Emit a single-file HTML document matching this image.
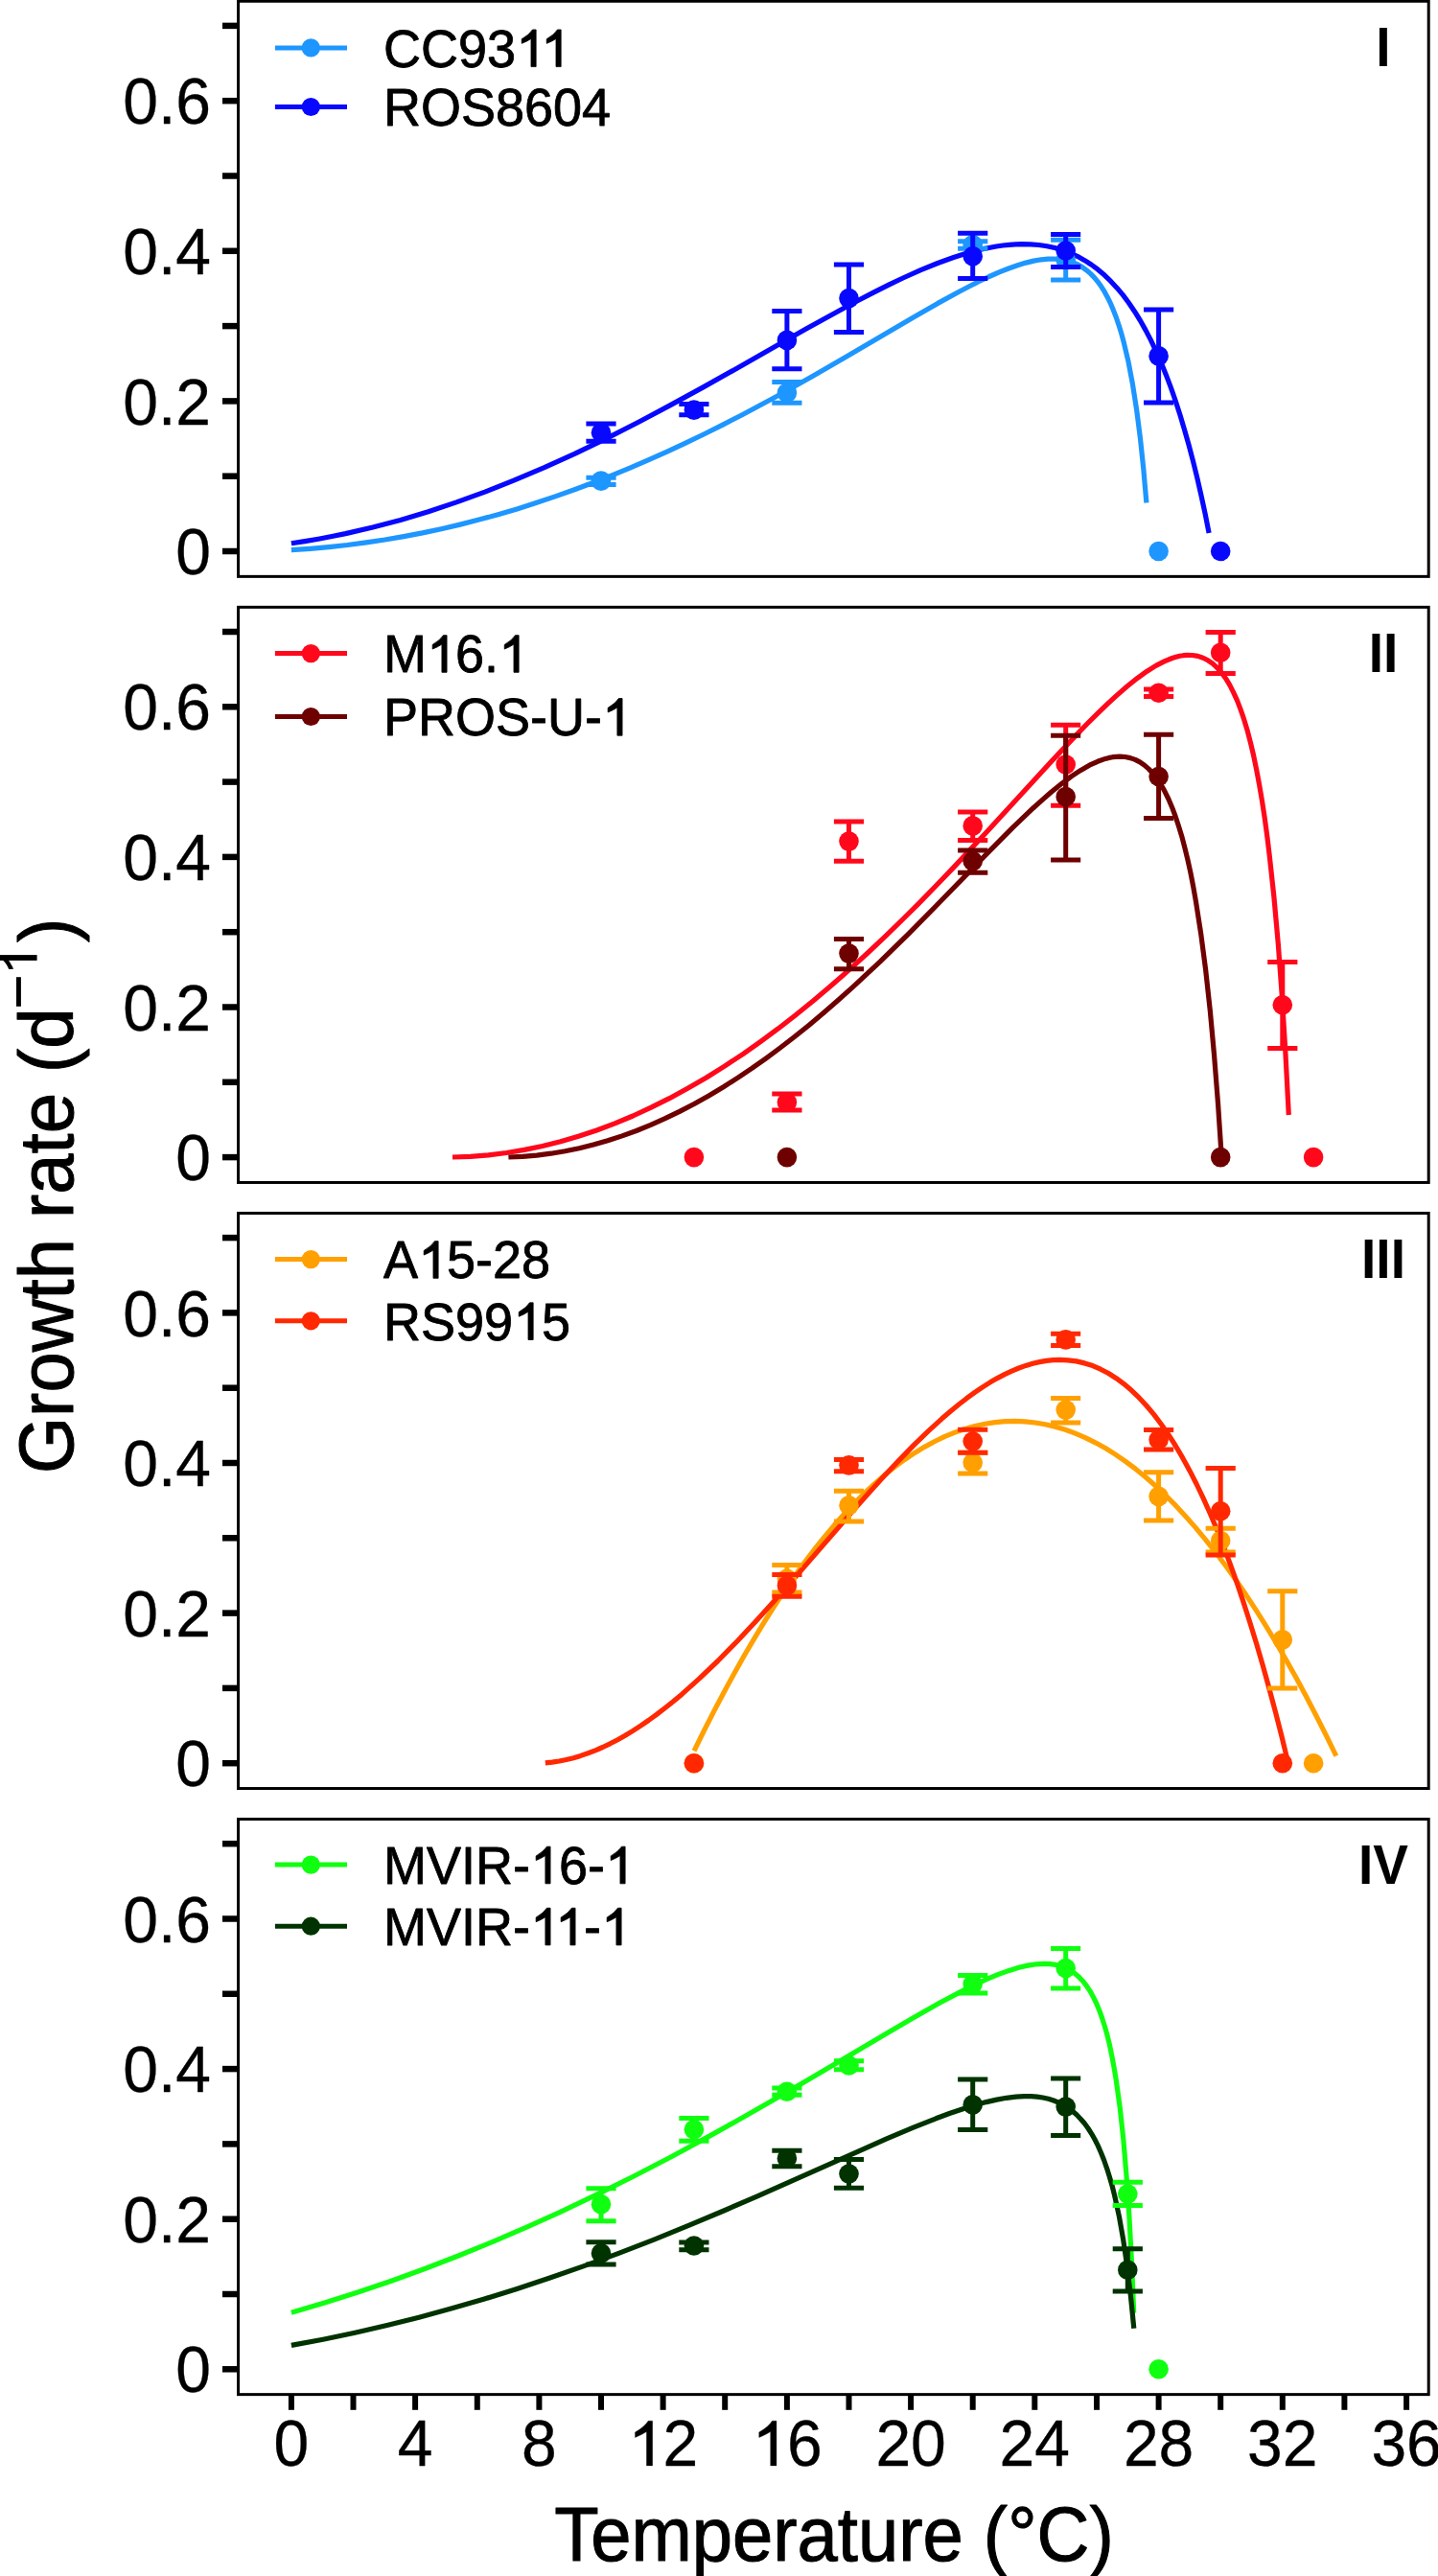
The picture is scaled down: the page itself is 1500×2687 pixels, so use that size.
<!DOCTYPE html><html><head><meta charset="utf-8"><style>html,body{margin:0;padding:0;background:#fff;}svg{display:block;}text{font-family:"Liberation Sans",sans-serif;}</style></head><body>
<svg width="1500" height="2687" viewBox="0 0 1500 2687">
<rect width="1500" height="2687" fill="#fff"/>
<path d="M303.9 573.6 L323.4 572.3 L342.9 570.6 L362.3 568.5 L382.0 565.9 L401.4 563.0 L421.1 559.6 L440.7 555.9 L460.3 551.7 L480.0 547.1 L499.7 542.1 L519.5 536.7 L539.3 530.9 L559.2 524.6 L579.1 517.9 L599.2 510.8 L619.3 503.3 L638.2 495.8 L657.1 488.1 L676.1 479.9 L695.3 471.3 L714.6 462.3 L734.1 453.0 L753.9 443.1 L774.1 432.7 L809.6 413.7 L847.5 392.5 L882.9 372.1 L952.4 331.3 L978.2 316.4 L1000.9 304.0 L1020.3 294.0 L1031.8 288.5 L1042.3 283.9 L1052.2 280.0 L1061.4 276.7 L1070.1 274.1 L1078.3 272.1 L1086.1 270.8 L1093.3 270.1 L1099.1 270.0 L1104.8 270.3 L1110.1 271.1 L1115.2 272.3 L1120.1 274.0 L1124.7 276.2 L1129.2 278.8 L1133.3 281.8 L1137.5 285.4 L1141.4 289.3 L1145.1 293.8 L1148.7 298.8 L1152.1 304.2 L1155.3 310.2 L1158.5 316.7 L1161.4 323.6 L1164.3 331.0 L1167.1 339.3 L1169.8 348.1 L1172.3 357.3 L1177.1 377.7 L1181.5 401.1 L1185.7 427.9 L1189.4 456.9 L1192.8 489.1 L1195.9 524.5" fill="none" stroke="#1E96FF" stroke-width="5.2" stroke-linejoin="round"/>
<path d="M303.9 566.8 L317.9 564.6 L332.0 562.2 L346.2 559.5 L360.4 556.6 L388.9 550.0 L417.7 542.4 L446.7 533.7 L476.1 523.9 L505.8 513.1 L535.9 501.2 L567.3 487.9 L599.4 473.3 L632.6 457.3 L667.1 439.8 L698.8 422.9 L733.1 404.1 L766.0 385.7 L840.0 343.6 L875.5 323.9 L894.0 314.0 L911.1 305.1 L927.0 297.1 L941.9 290.0 L960.5 281.7 L978.1 274.5 L994.7 268.5 L1010.3 263.6 L1025.1 259.7 L1039.3 257.0 L1046.2 256.0 L1052.9 255.3 L1059.5 254.8 L1065.8 254.6 L1074.8 254.8 L1083.5 255.5 L1092.0 256.7 L1100.3 258.5 L1108.3 260.9 L1116.1 263.8 L1123.8 267.3 L1131.1 271.4 L1138.3 276.0 L1145.3 281.2 L1152.2 287.1 L1158.7 293.4 L1165.2 300.4 L1171.5 307.9 L1177.5 316.0 L1183.4 324.7 L1189.2 334.0 L1194.9 344.1 L1200.5 354.9 L1205.9 366.3 L1211.2 378.3 L1216.3 390.9 L1221.3 404.1 L1226.2 418.2 L1231.0 433.0 L1235.6 448.4 L1240.1 464.3 L1244.6 481.3 L1248.9 498.9 L1253.0 516.9 L1257.2 536.2 L1261.1 556.0" fill="none" stroke="#0808FF" stroke-width="5.2" stroke-linejoin="round"/>
<path d="M627.0 498.2V505.6M611.4 498.2H642.6M611.4 505.6H642.6" stroke="#1E96FF" stroke-width="5" fill="none"/>
<circle cx="627.0" cy="501.6" r="10.3" fill="#1E96FF"/>
<path d="M820.9 398.5V420.2M805.3 398.5H836.5M805.3 420.2H836.5" stroke="#1E96FF" stroke-width="5" fill="none"/>
<circle cx="820.9" cy="409.7" r="10.3" fill="#1E96FF"/>
<path d="M1014.7 251.7V259.2M999.1 251.7H1030.3M999.1 259.2H1030.3" stroke="#1E96FF" stroke-width="5" fill="none"/>
<circle cx="1014.7" cy="255.3" r="10.3" fill="#1E96FF"/>
<path d="M1111.7 250.3V291.9M1096.1 250.3H1127.2M1096.1 291.9H1127.2" stroke="#1E96FF" stroke-width="5" fill="none"/>
<circle cx="1111.7" cy="271.1" r="10.3" fill="#1E96FF"/>
<circle cx="1208.6" cy="575.0" r="10.3" fill="#1E96FF"/>
<path d="M627.0 442.0V460.3M611.4 442.0H642.6M611.4 460.3H642.6" stroke="#0808FF" stroke-width="5" fill="none"/>
<circle cx="627.0" cy="451.3" r="10.3" fill="#0808FF"/>
<path d="M723.9 421.5V432.8M708.3 421.5H739.5M708.3 432.8H739.5" stroke="#0808FF" stroke-width="5" fill="none"/>
<circle cx="723.9" cy="427.6" r="10.3" fill="#0808FF"/>
<path d="M820.9 324.6V384.8M805.3 324.6H836.5M805.3 384.8H836.5" stroke="#0808FF" stroke-width="5" fill="none"/>
<circle cx="820.9" cy="354.9" r="10.3" fill="#0808FF"/>
<path d="M885.5 276.1V346.4M869.9 276.1H901.1M869.9 346.4H901.1" stroke="#0808FF" stroke-width="5" fill="none"/>
<circle cx="885.5" cy="311.1" r="10.3" fill="#0808FF"/>
<path d="M1014.7 243.2V290.5M999.1 243.2H1030.3M999.1 290.5H1030.3" stroke="#0808FF" stroke-width="5" fill="none"/>
<circle cx="1014.7" cy="267.3" r="10.3" fill="#0808FF"/>
<path d="M1111.7 244.6V278.6M1096.1 244.6H1127.2M1096.1 278.6H1127.2" stroke="#0808FF" stroke-width="5" fill="none"/>
<circle cx="1111.7" cy="261.5" r="10.3" fill="#0808FF"/>
<path d="M1208.6 322.9V420.0M1193.0 322.9H1224.2M1193.0 420.0H1224.2" stroke="#0808FF" stroke-width="5" fill="none"/>
<circle cx="1208.6" cy="371.4" r="10.3" fill="#0808FF"/>
<circle cx="1273.2" cy="575.0" r="10.3" fill="#0808FF"/>
<rect x="248.5" y="1.25" width="1241.7" height="600.1" fill="none" stroke="#000" stroke-width="3"/>
<line x1="232" y1="575.0" x2="248.5" y2="575.0" stroke="#000" stroke-width="6.5"/>
<text transform="translate(220 599.1) scale(1 1.03)" font-size="66" text-anchor="end" stroke="#000" stroke-width="0.3" stroke-linejoin="round">0</text>
<line x1="232" y1="496.7" x2="248.5" y2="496.7" stroke="#000" stroke-width="6.5"/>
<line x1="232" y1="418.4" x2="248.5" y2="418.4" stroke="#000" stroke-width="6.5"/>
<text transform="translate(220 442.5) scale(1 1.03)" font-size="66" text-anchor="end" stroke="#000" stroke-width="0.3" stroke-linejoin="round">0.2</text>
<line x1="232" y1="340.1" x2="248.5" y2="340.1" stroke="#000" stroke-width="6.5"/>
<line x1="232" y1="261.8" x2="248.5" y2="261.8" stroke="#000" stroke-width="6.5"/>
<text transform="translate(220 285.9) scale(1 1.03)" font-size="66" text-anchor="end" stroke="#000" stroke-width="0.3" stroke-linejoin="round">0.4</text>
<line x1="232" y1="183.5" x2="248.5" y2="183.5" stroke="#000" stroke-width="6.5"/>
<line x1="232" y1="105.2" x2="248.5" y2="105.2" stroke="#000" stroke-width="6.5"/>
<text transform="translate(220 129.3) scale(1 1.03)" font-size="66" text-anchor="end" stroke="#000" stroke-width="0.3" stroke-linejoin="round">0.6</text>
<line x1="232" y1="26.9" x2="248.5" y2="26.9" stroke="#000" stroke-width="6.5"/>
<line x1="286.9" y1="49.9" x2="362" y2="49.9" stroke="#1E96FF" stroke-width="5"/>
<circle cx="324.3" cy="49.9" r="9.6" fill="#1E96FF"/>
<g transform="translate(400 69.6) scale(1 1.04)" stroke="#000" stroke-width="0.8" stroke-linejoin="round"><text font-size="54">CC93<tspan visibility="hidden">11</tspan></text><path transform="translate(138.04 0) scale(0.02637 -0.02637)" d="M605 0 L800 0 L800 1409 L660 1409 Q550 1230 235 1053 L235 884 Q440 960 605 1065 Z" vector-effect="non-scaling-stroke"/><path transform="translate(164.05 0) scale(0.02637 -0.02637)" d="M605 0 L800 0 L800 1409 L660 1409 Q550 1230 235 1053 L235 884 Q440 960 605 1065 Z" vector-effect="non-scaling-stroke"/></g>
<line x1="286.9" y1="111.5" x2="362" y2="111.5" stroke="#0808FF" stroke-width="5"/>
<circle cx="324.3" cy="111.5" r="9.6" fill="#0808FF"/>
<text transform="translate(400 131.2) scale(1 1.04)" font-size="54" stroke="#000" stroke-width="0.8" stroke-linejoin="round">ROS8604</text>
<text transform="translate(1443 68.8) scale(1 1.03)" font-size="55" font-weight="bold" text-anchor="middle">I</text>
<path d="M472.0 1207.0 L490.8 1206.4 L509.5 1204.9 L528.3 1202.5 L547.0 1199.4 L565.8 1195.5 L584.7 1190.8 L603.4 1185.3 L622.4 1179.0 L641.3 1171.9 L660.2 1164.0 L679.2 1155.2 L698.3 1145.7 L717.3 1135.3 L736.5 1124.2 L755.8 1112.1 L775.2 1099.3 L793.2 1086.6 L811.4 1073.2 L829.7 1059.0 L848.2 1044.0 L866.8 1028.3 L885.5 1011.9 L904.6 994.5 L924.1 976.1 L941.1 959.5 L958.4 942.3 L976.3 924.0 L994.9 904.6 L1029.1 868.0 L1096.7 794.3 L1122.3 767.1 L1134.0 755.0 L1145.0 744.1 L1155.1 734.4 L1164.6 725.6 L1175.9 715.8 L1186.5 707.3 L1196.4 700.2 L1205.7 694.4 L1214.5 689.9 L1222.7 686.5 L1226.7 685.3 L1230.6 684.3 L1234.4 683.7 L1238.0 683.4 L1243.8 683.5 L1249.5 684.4 L1254.9 686.2 L1260.0 688.8 L1264.9 692.2 L1269.7 696.6 L1274.2 701.7 L1278.6 707.7 L1282.8 714.6 L1286.7 722.3 L1290.7 731.1 L1294.3 740.6 L1297.8 750.9 L1301.3 762.6 L1304.5 774.8 L1307.7 788.4 L1310.7 803.0 L1313.6 818.6 L1316.4 834.9 L1319.2 853.1 L1321.8 872.3 L1324.2 892.2 L1328.9 935.6 L1333.3 984.6 L1337.2 1037.6 L1340.8 1096.1 L1344.3 1163.0" fill="none" stroke="#FF081C" stroke-width="5.2" stroke-linejoin="round"/>
<path d="M530.4 1207.0 L545.2 1206.4 L559.9 1205.1 L574.7 1203.2 L589.4 1200.8 L604.2 1197.8 L619.0 1194.1 L633.9 1189.8 L648.9 1184.9 L663.8 1179.5 L678.8 1173.4 L693.8 1166.7 L708.9 1159.4 L724.1 1151.5 L739.3 1142.9 L754.7 1133.7 L770.1 1123.9 L784.6 1114.2 L799.2 1103.8 L813.8 1093.0 L828.7 1081.5 L843.7 1069.4 L858.8 1056.7 L874.3 1043.3 L890.1 1029.1 L918.0 1003.1 L947.9 973.8 L975.9 945.5 L1033.2 886.6 L1056.5 863.2 L1077.9 842.7 L1087.5 834.1 L1096.5 826.2 L1107.6 817.3 L1117.8 809.7 L1127.4 803.4 L1136.4 798.2 L1145.0 794.3 L1153.1 791.4 L1156.9 790.4 L1160.7 789.7 L1164.5 789.3 L1168.1 789.1 L1173.6 789.5 L1179.0 790.6 L1184.1 792.4 L1189.0 794.9 L1193.7 798.1 L1198.3 802.1 L1202.8 806.9 L1207.0 812.3 L1211.1 818.6 L1215.0 825.6 L1218.9 833.5 L1222.5 841.9 L1226.1 851.5 L1229.4 861.5 L1232.7 872.2 L1235.9 884.3 L1239.0 897.1 L1242.0 910.8 L1244.8 925.3 L1247.5 940.6 L1252.7 974.0 L1257.7 1012.2 L1262.3 1054.3 L1266.5 1100.1 L1270.5 1150.7 L1274.2 1206.5" fill="none" stroke="#6E0000" stroke-width="5.2" stroke-linejoin="round"/>
<circle cx="723.9" cy="1207.1" r="10.3" fill="#FF081C"/>
<path d="M820.9 1141.0V1158.0M805.3 1141.0H836.5M805.3 1158.0H836.5" stroke="#FF081C" stroke-width="5" fill="none"/>
<circle cx="820.9" cy="1149.7" r="10.3" fill="#FF081C"/>
<path d="M885.5 856.9V898.2M869.9 856.9H901.1M869.9 898.2H901.1" stroke="#FF081C" stroke-width="5" fill="none"/>
<circle cx="885.5" cy="877.6" r="10.3" fill="#FF081C"/>
<path d="M1014.7 847.1V876.4M999.1 847.1H1030.3M999.1 876.4H1030.3" stroke="#FF081C" stroke-width="5" fill="none"/>
<circle cx="1014.7" cy="861.4" r="10.3" fill="#FF081C"/>
<path d="M1111.7 756.2V840.3M1096.1 756.2H1127.2M1096.1 840.3H1127.2" stroke="#FF081C" stroke-width="5" fill="none"/>
<circle cx="1111.7" cy="797.5" r="10.3" fill="#FF081C"/>
<path d="M1208.6 718.9V726.6M1193.0 718.9H1224.2M1193.0 726.6H1224.2" stroke="#FF081C" stroke-width="5" fill="none"/>
<circle cx="1208.6" cy="722.8" r="10.3" fill="#FF081C"/>
<path d="M1273.2 659.4V702.6M1257.6 659.4H1288.8M1257.6 702.6H1288.8" stroke="#FF081C" stroke-width="5" fill="none"/>
<circle cx="1273.2" cy="680.7" r="10.3" fill="#FF081C"/>
<path d="M1337.8 1003.6V1093.4M1322.2 1003.6H1353.4M1322.2 1093.4H1353.4" stroke="#FF081C" stroke-width="5" fill="none"/>
<circle cx="1337.8" cy="1048.3" r="10.3" fill="#FF081C"/>
<circle cx="1370.1" cy="1207.1" r="10.3" fill="#FF081C"/>
<circle cx="820.9" cy="1207.1" r="10.3" fill="#6E0000"/>
<path d="M885.5 979.6V1010.8M869.9 979.6H901.1M869.9 1010.8H901.1" stroke="#6E0000" stroke-width="5" fill="none"/>
<circle cx="885.5" cy="994.6" r="10.3" fill="#6E0000"/>
<path d="M1014.7 886.9V910.2M999.1 886.9H1030.3M999.1 910.2H1030.3" stroke="#6E0000" stroke-width="5" fill="none"/>
<circle cx="1014.7" cy="898.2" r="10.3" fill="#6E0000"/>
<path d="M1111.7 767.3V897.0M1096.1 767.3H1127.2M1096.1 897.0H1127.2" stroke="#6E0000" stroke-width="5" fill="none"/>
<circle cx="1111.7" cy="831.0" r="10.3" fill="#6E0000"/>
<path d="M1208.6 766.2V853.4M1193.0 766.2H1224.2M1193.0 853.4H1224.2" stroke="#6E0000" stroke-width="5" fill="none"/>
<circle cx="1208.6" cy="810.0" r="10.3" fill="#6E0000"/>
<circle cx="1273.2" cy="1207.1" r="10.3" fill="#6E0000"/>
<rect x="248.5" y="633.35" width="1241.7" height="600.1" fill="none" stroke="#000" stroke-width="3"/>
<line x1="232" y1="1207.1" x2="248.5" y2="1207.1" stroke="#000" stroke-width="6.5"/>
<text transform="translate(220 1231.2) scale(1 1.03)" font-size="66" text-anchor="end" stroke="#000" stroke-width="0.3" stroke-linejoin="round">0</text>
<line x1="232" y1="1128.8" x2="248.5" y2="1128.8" stroke="#000" stroke-width="6.5"/>
<line x1="232" y1="1050.5" x2="248.5" y2="1050.5" stroke="#000" stroke-width="6.5"/>
<text transform="translate(220 1074.6) scale(1 1.03)" font-size="66" text-anchor="end" stroke="#000" stroke-width="0.3" stroke-linejoin="round">0.2</text>
<line x1="232" y1="972.2" x2="248.5" y2="972.2" stroke="#000" stroke-width="6.5"/>
<line x1="232" y1="893.9" x2="248.5" y2="893.9" stroke="#000" stroke-width="6.5"/>
<text transform="translate(220 918.0) scale(1 1.03)" font-size="66" text-anchor="end" stroke="#000" stroke-width="0.3" stroke-linejoin="round">0.4</text>
<line x1="232" y1="815.6" x2="248.5" y2="815.6" stroke="#000" stroke-width="6.5"/>
<line x1="232" y1="737.3" x2="248.5" y2="737.3" stroke="#000" stroke-width="6.5"/>
<text transform="translate(220 761.4) scale(1 1.03)" font-size="66" text-anchor="end" stroke="#000" stroke-width="0.3" stroke-linejoin="round">0.6</text>
<line x1="232" y1="659.0" x2="248.5" y2="659.0" stroke="#000" stroke-width="6.5"/>
<line x1="286.9" y1="681.6" x2="362" y2="681.6" stroke="#FF081C" stroke-width="5"/>
<circle cx="324.3" cy="681.6" r="9.6" fill="#FF081C"/>
<g transform="translate(400 701.3) scale(1 1.04)" stroke="#000" stroke-width="0.8" stroke-linejoin="round"><text font-size="54">M<tspan visibility="hidden">1</tspan>6.<tspan visibility="hidden">1</tspan></text><path transform="translate(44.98 0) scale(0.02637 -0.02637)" d="M605 0 L800 0 L800 1409 L660 1409 Q550 1230 235 1053 L235 884 Q440 960 605 1065 Z" vector-effect="non-scaling-stroke"/><path transform="translate(120.04 0) scale(0.02637 -0.02637)" d="M605 0 L800 0 L800 1409 L660 1409 Q550 1230 235 1053 L235 884 Q440 960 605 1065 Z" vector-effect="non-scaling-stroke"/></g>
<line x1="286.9" y1="747.5" x2="362" y2="747.5" stroke="#6E0000" stroke-width="5"/>
<circle cx="324.3" cy="747.5" r="9.6" fill="#6E0000"/>
<g transform="translate(400 767.2) scale(1 1.04)" stroke="#000" stroke-width="0.8" stroke-linejoin="round"><text font-size="54">PROS-U-<tspan visibility="hidden">1</tspan></text><path transform="translate(227.96 0) scale(0.02637 -0.02637)" d="M605 0 L800 0 L800 1409 L660 1409 Q550 1230 235 1053 L235 884 Q440 960 605 1065 Z" vector-effect="non-scaling-stroke"/></g>
<text transform="translate(1443 700.9) scale(1 1.03)" font-size="55" font-weight="bold" text-anchor="middle">II</text>
<path d="M724.0 1826.3 L734.5 1805.0 L744.9 1784.6 L755.4 1764.7 L765.9 1745.4 L776.4 1726.8 L786.8 1709.1 L797.2 1691.9 L807.6 1675.5 L818.1 1659.6 L828.5 1644.6 L839.0 1630.1 L849.5 1616.2 L860.0 1603.1 L870.5 1590.6 L881.0 1578.8 L891.4 1567.8 L901.9 1557.4 L912.3 1547.7 L922.8 1538.6 L933.2 1530.2 L943.7 1522.5 L954.2 1515.4 L964.7 1509.1 L975.1 1503.5 L985.6 1498.4 L996.1 1494.1 L1006.6 1490.5 L1017.0 1487.5 L1027.5 1485.2 L1037.9 1483.6 L1048.4 1482.7 L1058.9 1482.4 L1069.4 1482.9 L1079.9 1484.0 L1090.4 1485.7 L1100.7 1488.2 L1111.2 1491.3 L1121.6 1495.1 L1132.1 1499.6 L1142.6 1504.8 L1153.0 1510.5 L1163.5 1517.1 L1174.0 1524.3 L1184.5 1532.2 L1195.0 1540.7 L1205.5 1550.0 L1215.9 1559.8 L1226.4 1570.4 L1236.8 1581.7 L1247.3 1593.6 L1257.8 1606.3 L1268.2 1619.5 L1278.6 1633.3 L1289.1 1648.0 L1299.6 1663.3 L1310.1 1679.4 L1320.6 1696.1 L1331.1 1713.5 L1341.5 1731.4 L1352.0 1750.1 L1362.5 1769.6 L1373.0 1789.7 L1383.3 1810.2 L1393.8 1831.7" fill="none" stroke="#FFA000" stroke-width="5.2" stroke-linejoin="round"/>
<path d="M568.8 1838.8 L576.0 1838.1 L583.4 1837.0 L590.7 1835.5 L598.2 1833.7 L605.7 1831.4 L613.3 1828.8 L621.0 1825.9 L628.7 1822.5 L636.4 1818.8 L644.3 1814.7 L652.2 1810.3 L660.2 1805.4 L668.3 1800.1 L676.5 1794.5 L684.9 1788.4 L693.2 1782.0 L702.0 1775.0 L711.1 1767.4 L729.5 1750.9 L748.8 1732.5 L769.2 1711.7 L788.8 1690.8 L810.5 1666.8 L832.2 1642.1 L888.7 1577.1 L905.4 1558.3 L920.3 1541.8 L937.4 1523.6 L953.2 1507.4 L968.2 1492.8 L982.5 1479.8 L991.3 1472.2 L999.8 1465.2 L1008.2 1458.7 L1016.5 1452.6 L1024.6 1447.1 L1032.5 1442.1 L1040.3 1437.6 L1047.9 1433.6 L1055.4 1430.1 L1062.8 1427.0 L1070.1 1424.4 L1077.3 1422.2 L1084.4 1420.6 L1091.5 1419.4 L1098.5 1418.6 L1105.3 1418.4 L1114.1 1418.8 L1122.7 1419.9 L1131.3 1421.9 L1139.8 1424.6 L1148.0 1428.2 L1156.3 1432.5 L1164.4 1437.7 L1172.4 1443.6 L1180.3 1450.3 L1188.2 1457.9 L1195.9 1466.3 L1203.6 1475.4 L1211.2 1485.5 L1218.7 1496.2 L1226.2 1508.0 L1233.5 1520.4 L1240.9 1533.9 L1248.1 1548.0 L1255.2 1562.9 L1262.3 1578.7 L1269.4 1595.6 L1276.4 1613.1 L1283.3 1631.6 L1290.2 1650.9 L1297.0 1671.1 L1303.7 1692.0 L1310.5 1713.9 L1317.2 1736.9 L1323.7 1760.5 L1330.3 1785.2 L1336.8 1810.5 L1343.2 1836.8" fill="none" stroke="#FF2800" stroke-width="5.2" stroke-linejoin="round"/>
<circle cx="723.9" cy="1839.2" r="10.3" fill="#FFA000"/>
<path d="M820.9 1632.6V1660.9M805.3 1632.6H836.5M805.3 1660.9H836.5" stroke="#FFA000" stroke-width="5" fill="none"/>
<circle cx="820.9" cy="1646.7" r="10.3" fill="#FFA000"/>
<path d="M885.5 1555.2V1587.0M869.9 1555.2H901.1M869.9 1587.0H901.1" stroke="#FFA000" stroke-width="5" fill="none"/>
<circle cx="885.5" cy="1570.3" r="10.3" fill="#FFA000"/>
<path d="M1014.7 1515.3V1536.9M999.1 1515.3H1030.3M999.1 1536.9H1030.3" stroke="#FFA000" stroke-width="5" fill="none"/>
<circle cx="1014.7" cy="1525.8" r="10.3" fill="#FFA000"/>
<path d="M1111.7 1458.4V1483.9M1096.1 1458.4H1127.2M1096.1 1483.9H1127.2" stroke="#FFA000" stroke-width="5" fill="none"/>
<circle cx="1111.7" cy="1470.6" r="10.3" fill="#FFA000"/>
<path d="M1208.6 1535.8V1586.0M1193.0 1535.8H1224.2M1193.0 1586.0H1224.2" stroke="#FFA000" stroke-width="5" fill="none"/>
<circle cx="1208.6" cy="1560.9" r="10.3" fill="#FFA000"/>
<path d="M1273.2 1594.2V1619.0M1257.6 1594.2H1288.8M1257.6 1619.0H1288.8" stroke="#FFA000" stroke-width="5" fill="none"/>
<circle cx="1273.2" cy="1607.1" r="10.3" fill="#FFA000"/>
<path d="M1337.8 1659.7V1761.1M1322.2 1659.7H1353.4M1322.2 1761.1H1353.4" stroke="#FFA000" stroke-width="5" fill="none"/>
<circle cx="1337.8" cy="1710.4" r="10.3" fill="#FFA000"/>
<circle cx="1370.1" cy="1839.2" r="10.3" fill="#FFA000"/>
<circle cx="723.9" cy="1839.2" r="10.3" fill="#FF2800"/>
<path d="M820.9 1642.6V1665.2M805.3 1642.6H836.5M805.3 1665.2H836.5" stroke="#FF2800" stroke-width="5" fill="none"/>
<circle cx="820.9" cy="1653.9" r="10.3" fill="#FF2800"/>
<path d="M885.5 1522.4V1534.7M869.9 1522.4H901.1M869.9 1534.7H901.1" stroke="#FF2800" stroke-width="5" fill="none"/>
<circle cx="885.5" cy="1528.4" r="10.3" fill="#FF2800"/>
<path d="M1014.7 1491.3V1515.3M999.1 1491.3H1030.3M999.1 1515.3H1030.3" stroke="#FF2800" stroke-width="5" fill="none"/>
<circle cx="1014.7" cy="1503.5" r="10.3" fill="#FF2800"/>
<path d="M1111.7 1391.2V1403.4M1096.1 1391.2H1127.2M1096.1 1403.4H1127.2" stroke="#FF2800" stroke-width="5" fill="none"/>
<circle cx="1111.7" cy="1397.4" r="10.3" fill="#FF2800"/>
<path d="M1208.6 1491.4V1511.9M1193.0 1491.4H1224.2M1193.0 1511.9H1224.2" stroke="#FF2800" stroke-width="5" fill="none"/>
<circle cx="1208.6" cy="1501.7" r="10.3" fill="#FF2800"/>
<path d="M1273.2 1531.4V1622.1M1257.6 1531.4H1288.8M1257.6 1622.1H1288.8" stroke="#FF2800" stroke-width="5" fill="none"/>
<circle cx="1273.2" cy="1576.3" r="10.3" fill="#FF2800"/>
<circle cx="1337.8" cy="1839.2" r="10.3" fill="#FF2800"/>
<rect x="248.5" y="1265.45" width="1241.7" height="600.1" fill="none" stroke="#000" stroke-width="3"/>
<line x1="232" y1="1839.2" x2="248.5" y2="1839.2" stroke="#000" stroke-width="6.5"/>
<text transform="translate(220 1863.3) scale(1 1.03)" font-size="66" text-anchor="end" stroke="#000" stroke-width="0.3" stroke-linejoin="round">0</text>
<line x1="232" y1="1760.9" x2="248.5" y2="1760.9" stroke="#000" stroke-width="6.5"/>
<line x1="232" y1="1682.6" x2="248.5" y2="1682.6" stroke="#000" stroke-width="6.5"/>
<text transform="translate(220 1706.7) scale(1 1.03)" font-size="66" text-anchor="end" stroke="#000" stroke-width="0.3" stroke-linejoin="round">0.2</text>
<line x1="232" y1="1604.3" x2="248.5" y2="1604.3" stroke="#000" stroke-width="6.5"/>
<line x1="232" y1="1526.0" x2="248.5" y2="1526.0" stroke="#000" stroke-width="6.5"/>
<text transform="translate(220 1550.1) scale(1 1.03)" font-size="66" text-anchor="end" stroke="#000" stroke-width="0.3" stroke-linejoin="round">0.4</text>
<line x1="232" y1="1447.7" x2="248.5" y2="1447.7" stroke="#000" stroke-width="6.5"/>
<line x1="232" y1="1369.4" x2="248.5" y2="1369.4" stroke="#000" stroke-width="6.5"/>
<text transform="translate(220 1393.5) scale(1 1.03)" font-size="66" text-anchor="end" stroke="#000" stroke-width="0.3" stroke-linejoin="round">0.6</text>
<line x1="232" y1="1291.1" x2="248.5" y2="1291.1" stroke="#000" stroke-width="6.5"/>
<line x1="286.9" y1="1313.6" x2="362" y2="1313.6" stroke="#FFA000" stroke-width="5"/>
<circle cx="324.3" cy="1313.6" r="9.6" fill="#FFA000"/>
<g transform="translate(400 1333.3) scale(1 1.04)" stroke="#000" stroke-width="0.8" stroke-linejoin="round"><text font-size="54">A<tspan visibility="hidden">1</tspan>5-28</text><path transform="translate(36.02 0) scale(0.02637 -0.02637)" d="M605 0 L800 0 L800 1409 L660 1409 Q550 1230 235 1053 L235 884 Q440 960 605 1065 Z" vector-effect="non-scaling-stroke"/></g>
<line x1="286.9" y1="1377.8" x2="362" y2="1377.8" stroke="#FF2800" stroke-width="5"/>
<circle cx="324.3" cy="1377.8" r="9.6" fill="#FF2800"/>
<g transform="translate(400 1397.5) scale(1 1.04)" stroke="#000" stroke-width="0.8" stroke-linejoin="round"><text font-size="54">RS99<tspan visibility="hidden">1</tspan>5</text><path transform="translate(135.05 0) scale(0.02637 -0.02637)" d="M605 0 L800 0 L800 1409 L660 1409 Q550 1230 235 1053 L235 884 Q440 960 605 1065 Z" vector-effect="non-scaling-stroke"/></g>
<text transform="translate(1443 1333.0) scale(1 1.03)" font-size="55" font-weight="bold" text-anchor="middle">III</text>
<path d="M303.9 2412.3 L338.6 2402.1 L373.3 2391.1 L408.2 2379.2 L443.1 2366.5 L478.1 2353.0 L513.4 2338.6 L548.8 2323.4 L584.4 2307.3 L622.5 2289.2 L661.1 2270.0 L700.2 2249.7 L740.5 2227.9 L776.9 2207.6 L815.8 2185.3 L852.2 2163.9 L924.5 2121.2 L952.7 2104.7 L979.6 2089.6 L1002.1 2077.6 L1016.5 2070.4 L1029.5 2064.4 L1041.5 2059.4 L1052.7 2055.4 L1062.9 2052.3 L1072.3 2050.1 L1081.1 2048.8 L1089.3 2048.3 L1095.3 2048.6 L1101.0 2049.4 L1106.4 2050.8 L1111.6 2052.8 L1116.4 2055.3 L1120.9 2058.3 L1125.2 2061.9 L1129.3 2066.2 L1133.2 2071.2 L1136.9 2076.6 L1140.4 2082.9 L1143.6 2089.5 L1146.7 2096.9 L1149.6 2105.0 L1152.4 2113.8 L1155.1 2123.4 L1157.6 2133.7 L1160.0 2145.5 L1162.2 2157.3 L1164.4 2170.7 L1168.4 2199.7 L1171.9 2232.5 L1175.1 2270.5 L1177.9 2311.9 L1180.4 2358.1 L1182.7 2412.6" fill="none" stroke="#10FF10" stroke-width="5.2" stroke-linejoin="round"/>
<path d="M303.9 2446.4 L337.0 2440.2 L370.3 2433.2 L403.7 2425.5 L437.1 2417.2 L470.6 2408.1 L504.5 2398.3 L538.5 2387.7 L572.9 2376.3 L608.5 2363.9 L644.7 2350.6 L681.6 2336.3 L719.5 2320.9 L753.8 2306.5 L790.6 2290.6 L895.8 2243.8 L924.9 2230.9 L952.8 2219.2 L976.3 2209.8 L991.1 2204.3 L1004.6 2199.7 L1017.2 2195.8 L1028.9 2192.6 L1039.8 2190.1 L1050.0 2188.3 L1059.7 2187.1 L1068.6 2186.6 L1075.4 2186.7 L1081.7 2187.1 L1087.7 2188.0 L1093.6 2189.3 L1099.0 2191.0 L1104.2 2193.1 L1109.2 2195.6 L1114.1 2198.6 L1118.6 2202.0 L1123.0 2205.8 L1127.2 2210.2 L1131.2 2214.8 L1135.0 2220.0 L1138.7 2225.8 L1142.2 2232.0 L1145.4 2238.4 L1148.6 2245.7 L1151.7 2253.5 L1154.6 2261.8 L1157.4 2270.7 L1160.1 2280.0 L1162.7 2290.4 L1167.4 2312.0 L1171.8 2336.8 L1175.7 2364.0 L1179.4 2394.6 L1182.8 2428.8" fill="none" stroke="#003300" stroke-width="5.2" stroke-linejoin="round"/>
<path d="M627.0 2282.7V2316.8M611.4 2282.7H642.6M611.4 2316.8H642.6" stroke="#10FF10" stroke-width="5" fill="none"/>
<circle cx="627.0" cy="2299.3" r="10.3" fill="#10FF10"/>
<path d="M723.9 2209.6V2233.2M708.3 2209.6H739.5M708.3 2233.2H739.5" stroke="#10FF10" stroke-width="5" fill="none"/>
<circle cx="723.9" cy="2221.2" r="10.3" fill="#10FF10"/>
<path d="M820.9 2178.1V2185.2M805.3 2178.1H836.5M805.3 2185.2H836.5" stroke="#10FF10" stroke-width="5" fill="none"/>
<circle cx="820.9" cy="2181.7" r="10.3" fill="#10FF10"/>
<path d="M885.5 2149.8V2158.7M869.9 2149.8H901.1M869.9 2158.7H901.1" stroke="#10FF10" stroke-width="5" fill="none"/>
<circle cx="885.5" cy="2154.5" r="10.3" fill="#10FF10"/>
<path d="M1014.7 2060.6V2079.0M999.1 2060.6H1030.3M999.1 2079.0H1030.3" stroke="#10FF10" stroke-width="5" fill="none"/>
<circle cx="1014.7" cy="2069.6" r="10.3" fill="#10FF10"/>
<path d="M1111.7 2032.5V2074.1M1096.1 2032.5H1127.2M1096.1 2074.1H1127.2" stroke="#10FF10" stroke-width="5" fill="none"/>
<circle cx="1111.7" cy="2053.0" r="10.3" fill="#10FF10"/>
<path d="M1176.3 2276.3V2300.6M1160.7 2276.3H1191.9M1160.7 2300.6H1191.9" stroke="#10FF10" stroke-width="5" fill="none"/>
<circle cx="1176.3" cy="2288.5" r="10.3" fill="#10FF10"/>
<circle cx="1208.6" cy="2471.3" r="10.3" fill="#10FF10"/>
<path d="M627.0 2338.7V2362.1M611.4 2338.7H642.6M611.4 2362.1H642.6" stroke="#003300" stroke-width="5" fill="none"/>
<circle cx="627.0" cy="2350.4" r="10.3" fill="#003300"/>
<path d="M723.9 2338.9V2346.7M708.3 2338.9H739.5M708.3 2346.7H739.5" stroke="#003300" stroke-width="5" fill="none"/>
<circle cx="723.9" cy="2342.5" r="10.3" fill="#003300"/>
<path d="M820.9 2243.2V2259.7M805.3 2243.2H836.5M805.3 2259.7H836.5" stroke="#003300" stroke-width="5" fill="none"/>
<circle cx="820.9" cy="2251.4" r="10.3" fill="#003300"/>
<path d="M885.5 2252.6V2282.2M869.9 2252.6H901.1M869.9 2282.2H901.1" stroke="#003300" stroke-width="5" fill="none"/>
<circle cx="885.5" cy="2267.5" r="10.3" fill="#003300"/>
<path d="M1014.7 2169.0V2221.5M999.1 2169.0H1030.3M999.1 2221.5H1030.3" stroke="#003300" stroke-width="5" fill="none"/>
<circle cx="1014.7" cy="2195.4" r="10.3" fill="#003300"/>
<path d="M1111.7 2168.1V2227.4M1096.1 2168.1H1127.2M1096.1 2227.4H1127.2" stroke="#003300" stroke-width="5" fill="none"/>
<circle cx="1111.7" cy="2197.6" r="10.3" fill="#003300"/>
<path d="M1176.3 2345.8V2389.9M1160.7 2345.8H1191.9M1160.7 2389.9H1191.9" stroke="#003300" stroke-width="5" fill="none"/>
<circle cx="1176.3" cy="2367.7" r="10.3" fill="#003300"/>
<rect x="248.5" y="1897.5500000000002" width="1241.7" height="600.1" fill="none" stroke="#000" stroke-width="3"/>
<line x1="232" y1="2471.3" x2="248.5" y2="2471.3" stroke="#000" stroke-width="6.5"/>
<text transform="translate(220 2495.4) scale(1 1.03)" font-size="66" text-anchor="end" stroke="#000" stroke-width="0.3" stroke-linejoin="round">0</text>
<line x1="232" y1="2393.0" x2="248.5" y2="2393.0" stroke="#000" stroke-width="6.5"/>
<line x1="232" y1="2314.7" x2="248.5" y2="2314.7" stroke="#000" stroke-width="6.5"/>
<text transform="translate(220 2338.8) scale(1 1.03)" font-size="66" text-anchor="end" stroke="#000" stroke-width="0.3" stroke-linejoin="round">0.2</text>
<line x1="232" y1="2236.4" x2="248.5" y2="2236.4" stroke="#000" stroke-width="6.5"/>
<line x1="232" y1="2158.1" x2="248.5" y2="2158.1" stroke="#000" stroke-width="6.5"/>
<text transform="translate(220 2182.2) scale(1 1.03)" font-size="66" text-anchor="end" stroke="#000" stroke-width="0.3" stroke-linejoin="round">0.4</text>
<line x1="232" y1="2079.8" x2="248.5" y2="2079.8" stroke="#000" stroke-width="6.5"/>
<line x1="232" y1="2001.5" x2="248.5" y2="2001.5" stroke="#000" stroke-width="6.5"/>
<text transform="translate(220 2025.6) scale(1 1.03)" font-size="66" text-anchor="end" stroke="#000" stroke-width="0.3" stroke-linejoin="round">0.6</text>
<line x1="232" y1="1923.2" x2="248.5" y2="1923.2" stroke="#000" stroke-width="6.5"/>
<line x1="286.9" y1="1945.1" x2="362" y2="1945.1" stroke="#10FF10" stroke-width="5"/>
<circle cx="324.3" cy="1945.1" r="9.6" fill="#10FF10"/>
<g transform="translate(400 1964.8) scale(1 1.04)" stroke="#000" stroke-width="0.8" stroke-linejoin="round"><text font-size="54">MVIR-<tspan visibility="hidden">1</tspan>6-<tspan visibility="hidden">1</tspan></text><path transform="translate(152.96 0) scale(0.02637 -0.02637)" d="M605 0 L800 0 L800 1409 L660 1409 Q550 1230 235 1053 L235 884 Q440 960 605 1065 Z" vector-effect="non-scaling-stroke"/><path transform="translate(231.01 0) scale(0.02637 -0.02637)" d="M605 0 L800 0 L800 1409 L660 1409 Q550 1230 235 1053 L235 884 Q440 960 605 1065 Z" vector-effect="non-scaling-stroke"/></g>
<line x1="286.9" y1="2009.2" x2="362" y2="2009.2" stroke="#003300" stroke-width="5"/>
<circle cx="324.3" cy="2009.2" r="9.6" fill="#003300"/>
<g transform="translate(400 2028.9) scale(1 1.04)" stroke="#000" stroke-width="0.8" stroke-linejoin="round"><text font-size="54">MVIR-<tspan visibility="hidden">11</tspan>-<tspan visibility="hidden">1</tspan></text><path transform="translate(152.96 0) scale(0.02637 -0.02637)" d="M605 0 L800 0 L800 1409 L660 1409 Q550 1230 235 1053 L235 884 Q440 960 605 1065 Z" vector-effect="non-scaling-stroke"/><path transform="translate(178.96 0) scale(0.02637 -0.02637)" d="M605 0 L800 0 L800 1409 L660 1409 Q550 1230 235 1053 L235 884 Q440 960 605 1065 Z" vector-effect="non-scaling-stroke"/><path transform="translate(226.99 0) scale(0.02637 -0.02637)" d="M605 0 L800 0 L800 1409 L660 1409 Q550 1230 235 1053 L235 884 Q440 960 605 1065 Z" vector-effect="non-scaling-stroke"/></g>
<text transform="translate(1443 1965.1) scale(1 1.03)" font-size="55" font-weight="bold" text-anchor="middle">IV</text>
<line x1="303.9" y1="2497.4" x2="303.9" y2="2513.8" stroke="#000" stroke-width="6"/>
<text transform="translate(303.9 2571.9) scale(1 1.03)" font-size="66" text-anchor="middle" stroke="#000" stroke-width="0.3" stroke-linejoin="round">0</text>
<line x1="368.5" y1="2497.4" x2="368.5" y2="2513.8" stroke="#000" stroke-width="6"/>
<line x1="433.1" y1="2497.4" x2="433.1" y2="2513.8" stroke="#000" stroke-width="6"/>
<text transform="translate(433.1 2571.9) scale(1 1.03)" font-size="66" text-anchor="middle" stroke="#000" stroke-width="0.3" stroke-linejoin="round">4</text>
<line x1="497.8" y1="2497.4" x2="497.8" y2="2513.8" stroke="#000" stroke-width="6"/>
<line x1="562.4" y1="2497.4" x2="562.4" y2="2513.8" stroke="#000" stroke-width="6"/>
<text transform="translate(562.4 2571.9) scale(1 1.03)" font-size="66" text-anchor="middle" stroke="#000" stroke-width="0.3" stroke-linejoin="round">8</text>
<line x1="627.0" y1="2497.4" x2="627.0" y2="2513.8" stroke="#000" stroke-width="6"/>
<line x1="691.6" y1="2497.4" x2="691.6" y2="2513.8" stroke="#000" stroke-width="6"/>
<g transform="translate(691.6 2571.9) scale(1 1.03)" stroke="#000" stroke-width="0.3" stroke-linejoin="round"><text font-size="66" text-anchor="middle"><tspan visibility="hidden">1</tspan>2</text><path transform="translate(-36.71 0) scale(0.03223 -0.03223)" d="M605 0 L800 0 L800 1409 L660 1409 Q550 1230 235 1053 L235 884 Q440 960 605 1065 Z" vector-effect="non-scaling-stroke"/></g>
<line x1="756.2" y1="2497.4" x2="756.2" y2="2513.8" stroke="#000" stroke-width="6"/>
<line x1="820.9" y1="2497.4" x2="820.9" y2="2513.8" stroke="#000" stroke-width="6"/>
<g transform="translate(820.9 2571.9) scale(1 1.03)" stroke="#000" stroke-width="0.3" stroke-linejoin="round"><text font-size="66" text-anchor="middle"><tspan visibility="hidden">1</tspan>6</text><path transform="translate(-36.71 0) scale(0.03223 -0.03223)" d="M605 0 L800 0 L800 1409 L660 1409 Q550 1230 235 1053 L235 884 Q440 960 605 1065 Z" vector-effect="non-scaling-stroke"/></g>
<line x1="885.5" y1="2497.4" x2="885.5" y2="2513.8" stroke="#000" stroke-width="6"/>
<line x1="950.1" y1="2497.4" x2="950.1" y2="2513.8" stroke="#000" stroke-width="6"/>
<text transform="translate(950.1 2571.9) scale(1 1.03)" font-size="66" text-anchor="middle" stroke="#000" stroke-width="0.3" stroke-linejoin="round">20</text>
<line x1="1014.7" y1="2497.4" x2="1014.7" y2="2513.8" stroke="#000" stroke-width="6"/>
<line x1="1079.3" y1="2497.4" x2="1079.3" y2="2513.8" stroke="#000" stroke-width="6"/>
<text transform="translate(1079.3 2571.9) scale(1 1.03)" font-size="66" text-anchor="middle" stroke="#000" stroke-width="0.3" stroke-linejoin="round">24</text>
<line x1="1144.0" y1="2497.4" x2="1144.0" y2="2513.8" stroke="#000" stroke-width="6"/>
<line x1="1208.6" y1="2497.4" x2="1208.6" y2="2513.8" stroke="#000" stroke-width="6"/>
<text transform="translate(1208.6 2571.9) scale(1 1.03)" font-size="66" text-anchor="middle" stroke="#000" stroke-width="0.3" stroke-linejoin="round">28</text>
<line x1="1273.2" y1="2497.4" x2="1273.2" y2="2513.8" stroke="#000" stroke-width="6"/>
<line x1="1337.8" y1="2497.4" x2="1337.8" y2="2513.8" stroke="#000" stroke-width="6"/>
<text transform="translate(1337.8 2571.9) scale(1 1.03)" font-size="66" text-anchor="middle" stroke="#000" stroke-width="0.3" stroke-linejoin="round">32</text>
<line x1="1402.4" y1="2497.4" x2="1402.4" y2="2513.8" stroke="#000" stroke-width="6"/>
<line x1="1467.1" y1="2497.4" x2="1467.1" y2="2513.8" stroke="#000" stroke-width="6"/>
<text transform="translate(1467.1 2571.9) scale(1 1.03)" font-size="66" text-anchor="middle" stroke="#000" stroke-width="0.3" stroke-linejoin="round">36</text>
<text transform="translate(578.2 2671) scale(1 1.04)" font-size="76" stroke="#000" stroke-width="1" stroke-linejoin="round">Temperature (°C)</text>
<text transform="translate(76 1537) rotate(-90) scale(1 1.04)" font-size="76" stroke="#000" stroke-width="1" stroke-linejoin="round">Growth rate (d</text>
<text transform="translate(76 983) rotate(-90) scale(1 1.04)" font-size="76" stroke="#000" stroke-width="1" stroke-linejoin="round">)</text>
<rect x="17" y="1019.2" width="4.9" height="30.6"/>
<rect x="-1" y="996.1" width="39.6" height="5.8"/>
<path d="M-1 999.6 L0 999.8 C3.5 1001.3 7 1005.2 9.2 1010.9 L14.1 1010.7 C12.5 1007 10.5 1004 8.9 1001.5 Z"/>
</svg></body></html>
